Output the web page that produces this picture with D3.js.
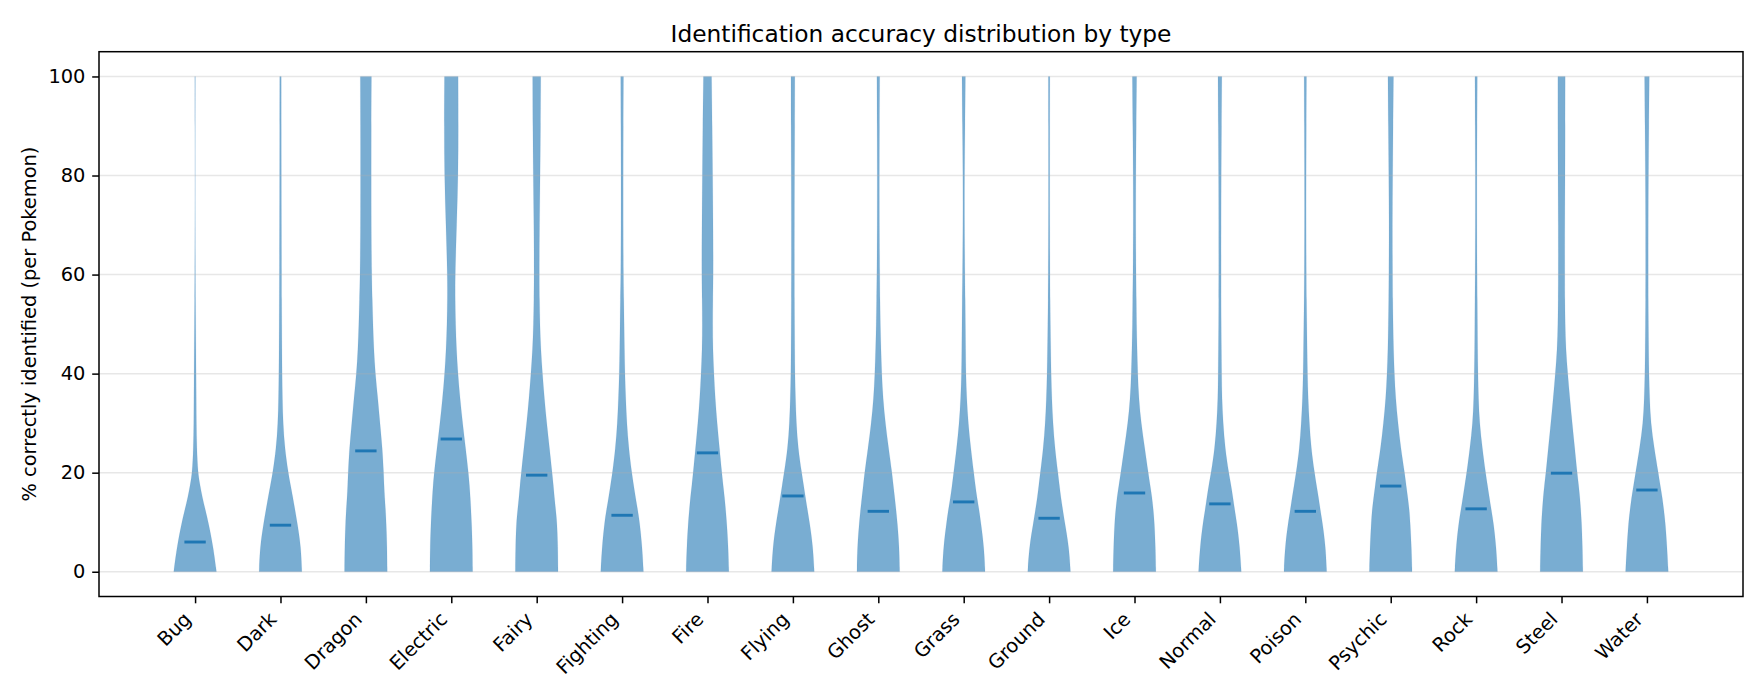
<!DOCTYPE html>
<html>
<head>
<meta charset="utf-8">
<script src="https://cdn.jsdelivr.net/npm/d3@7"></script>
<style>
  body { margin: 0; background: #fff; }
  svg text { font-family: "DejaVu Sans", sans-serif; fill: #000; }
</style>
</head>
<body>
<main></main>
<script>
// Datos: tipos, medianas y perfil de densidad (ancho relativo) de cada violín
const types = ["Bug", "Dark", "Dragon", "Electric", "Fairy", "Fighting", "Fire", "Flying", "Ghost",
    "Grass", "Ground", "Ice", "Normal", "Poison", "Psychic", "Rock", "Steel", "Water"];

const medians = [6.0, 9.4, 24.4, 26.8, 19.5, 11.4, 24.0, 15.3, 12.2,
    14.1, 10.8, 15.9, 13.7, 12.2, 17.3, 12.7, 19.9, 16.5];

// niveles de % donde se leyó el ancho
const levels = [0, 5, 10, 12.5, 15, 17.5, 20, 25, 30, 35, 40, 45, 50, 55, 60, 70, 80, 90, 100];

const bug      = [1.0, 0.85, 0.62, 0.48, 0.34, 0.23, 0.13, 0.08, 0.06, 0.055, 0.047, 0.04, 0.03, 0.022, 0.015, 0.006, 0.004, 0.006, 0.012];
const dark     = [1.0, 0.96, 0.78, 0.68, 0.58, 0.47, 0.36, 0.2, 0.12, 0.09, 0.075, 0.067, 0.06, 0.055, 0.05, 0.045, 0.04, 0.037, 0.035];
const dragon   = [1.0, 0.99, 0.95, 0.92, 0.88, 0.85, 0.83, 0.77, 0.66, 0.56, 0.44, 0.37, 0.33, 0.3, 0.27, 0.25, 0.25, 0.25, 0.26];
const electric = [1.0, 0.99, 0.95, 0.92, 0.89, 0.85, 0.8, 0.67, 0.53, 0.41, 0.31, 0.24, 0.2, 0.18, 0.18, 0.25, 0.32, 0.33, 0.32];
const fairy    = [1.0, 0.99, 0.95, 0.89, 0.83, 0.78, 0.72, 0.6, 0.47, 0.36, 0.27, 0.19, 0.15, 0.13, 0.12, 0.13, 0.16, 0.18, 0.19];
const fighting = [1.0, 0.94, 0.82, 0.73, 0.63, 0.54, 0.45, 0.31, 0.22, 0.17, 0.13, 0.11, 0.095, 0.08, 0.06, 0.05, 0.05, 0.055, 0.065];
const fire     = [1.0, 0.97, 0.9, 0.85, 0.8, 0.73, 0.67, 0.56, 0.45, 0.36, 0.3, 0.25, 0.24, 0.25, 0.27, 0.26, 0.24, 0.22, 0.19];
const flying   = [1.0, 0.94, 0.78, 0.68, 0.59, 0.5, 0.41, 0.24, 0.16, 0.12, 0.094, 0.085, 0.078, 0.072, 0.07, 0.07, 0.075, 0.085, 0.09];
const ghost    = [1.0, 0.98, 0.89, 0.83, 0.77, 0.7, 0.64, 0.48, 0.33, 0.22, 0.16, 0.125, 0.094, 0.08, 0.065, 0.05, 0.047, 0.055, 0.065];
const grass    = [1.0, 0.95, 0.8, 0.72, 0.62, 0.54, 0.47, 0.33, 0.21, 0.14, 0.1, 0.09, 0.08, 0.07, 0.055, 0.035, 0.035, 0.06, 0.08];
const ground   = [1.0, 0.93, 0.73, 0.64, 0.55, 0.48, 0.41, 0.27, 0.18, 0.125, 0.094, 0.075, 0.06, 0.047, 0.04, 0.03, 0.028, 0.03, 0.035];
const ice      = [1.0, 0.98, 0.93, 0.88, 0.82, 0.73, 0.64, 0.48, 0.31, 0.2, 0.15, 0.12, 0.094, 0.086, 0.07, 0.055, 0.06, 0.08, 0.1];
const normal   = [1.0, 0.93, 0.79, 0.69, 0.61, 0.52, 0.41, 0.24, 0.15, 0.094, 0.08, 0.07, 0.06, 0.055, 0.055, 0.055, 0.06, 0.075, 0.09];
const poison   = [1.0, 0.95, 0.8, 0.7, 0.62, 0.52, 0.43, 0.27, 0.19, 0.13, 0.1, 0.085, 0.07, 0.055, 0.045, 0.035, 0.037, 0.045, 0.055];
const psychic  = [1.0, 0.97, 0.91, 0.87, 0.8, 0.72, 0.65, 0.47, 0.34, 0.23, 0.17, 0.13, 0.11, 0.094, 0.085, 0.075, 0.09, 0.11, 0.13];
const rock     = [1.0, 0.94, 0.81, 0.71, 0.62, 0.53, 0.44, 0.29, 0.16, 0.11, 0.086, 0.07, 0.062, 0.055, 0.045, 0.035, 0.035, 0.045, 0.055];
const steel    = [1.0, 0.98, 0.94, 0.9, 0.86, 0.8, 0.73, 0.62, 0.5, 0.39, 0.29, 0.2, 0.17, 0.156, 0.15, 0.15, 0.165, 0.17, 0.17];
const water    = [1.0, 0.94, 0.86, 0.79, 0.72, 0.62, 0.53, 0.34, 0.18, 0.125, 0.094, 0.08, 0.07, 0.062, 0.06, 0.06, 0.07, 0.09, 0.11];

const yTicks = [0, 20, 40, 60, 80, 100];

const profiles = [bug, dark, dragon, electric, fairy, fighting, fire, flying, ghost,
    grass, ground, ice, normal, poison, psychic, rock, steel, water];

//Crea el svg
const w = 1764;
const h = 700;
const m = { left: 99, right: 1743, top: 51.7, bottom: 596.5 };

const svg = d3.select('main')
    .append('svg')
    .attr('width', w)
    .attr('height', h);

//Escalas (posiciones 1..18 como en matplotlib)
const x = d3.scaleLinear()
    .domain([-0.125, 19.125])
    .range([m.left, m.right]);

const y = d3.scaleLinear()
    .domain([-5, 105])
    .range([m.bottom, m.top]);

// ancho máximo de cada violín = 0.5 unidades
const halfW = d3.scaleLinear()
    .domain([0, 1])
    .range([0, x(0.25) - x(0)]);

const azul = '#1f77b4';

//Violines
const g = svg.append('g');

profiles.forEach((p, i) => {
    const pos = i + 1;
    const pts = levels.map((v, k) => ({ v: v, w: p[k] }));
    const area = d3.area()
        .y(d => y(d.v))
        .x0(d => x(pos) - halfW(d.w))
        .x1(d => x(pos) + halfW(d.w))
        .curve(d3.curveBasis);
    g.append('path')
        .attr('d', area(pts))
        .attr('fill', azul)
        .attr('fill-opacity', 0.6)
        .attr('stroke', azul)
        .attr('stroke-opacity', 0.15)
        .attr('stroke-width', 0.6);
});

//Rejilla horizontal (encima de los violines)
svg.append('g')
    .selectAll('line')
    .data(yTicks)
    .enter()
    .append('line')
    .attr('x1', m.left)
    .attr('x2', m.right)
    .attr('y1', d => y(d))
    .attr('y2', d => y(d))
    .attr('stroke', '#b0b0b0')
    .attr('stroke-opacity', 0.3)
    .attr('stroke-width', 1.5);

//Medianas
svg.append('g')
    .selectAll('line')
    .data(medians)
    .enter()
    .append('line')
    .attr('x1', (d, i) => x(i + 1 - 0.125))
    .attr('x2', (d, i) => x(i + 1 + 0.125))
    .attr('y1', d => y(d))
    .attr('y2', d => y(d))
    .attr('stroke', azul)
    .attr('stroke-width', 2.9);

//Ejes
const fs = 19.4;

const yAxis = d3.axisLeft(y)
    .tickValues(yTicks)
    .tickSize(6.8)
    .tickPadding(6.8);

const gy = svg.append('g')
    .attr('transform', `translate(${m.left},0)`)
    .call(yAxis);
gy.select('.domain').remove();
gy.selectAll('line').attr('stroke', '#000').attr('stroke-width', 1.5);
gy.selectAll('text').style('font-size', fs + 'px');

const xAxis = d3.axisBottom(x)
    .tickValues(d3.range(1, types.length + 1))
    .tickSize(6.8)
    .tickFormat(d => types[d - 1]);

const gx = svg.append('g')
    .attr('transform', `translate(0,${m.bottom})`)
    .call(xAxis);
gx.select('.domain').remove();
gx.selectAll('line').attr('stroke', '#000').attr('stroke-width', 1.5);
gx.selectAll('text')
    .style('font-size', fs + 'px')
    .attr('text-anchor', 'end')
    .attr('dy', null)
    .attr('y', null)
    .attr('transform', `translate(${-0.24 * fs / Math.SQRT2},${6.8 + 6.8 + 0.76 * fs / Math.SQRT2}) rotate(-45)`);

//Marco
svg.append('rect')
    .attr('x', m.left)
    .attr('y', m.top)
    .attr('width', m.right - m.left)
    .attr('height', m.bottom - m.top)
    .attr('fill', 'none')
    .attr('stroke', '#000')
    .attr('stroke-width', 1.5);

//Títulos
svg.append('text')
    .attr('x', (m.left + m.right) / 2)
    .attr('y', 41.5)
    .attr('text-anchor', 'middle')
    .style('font-size', '23.3px')
    .text('Identification accuracy distribution by type');

svg.append('text')
    .attr('transform', `translate(36,${(m.top + m.bottom) / 2}) rotate(-90)`)
    .attr('text-anchor', 'middle')
    .style('font-size', fs + 'px')
    .text('% correctly identified (per Pokemon)');
</script>
</body>
</html>
